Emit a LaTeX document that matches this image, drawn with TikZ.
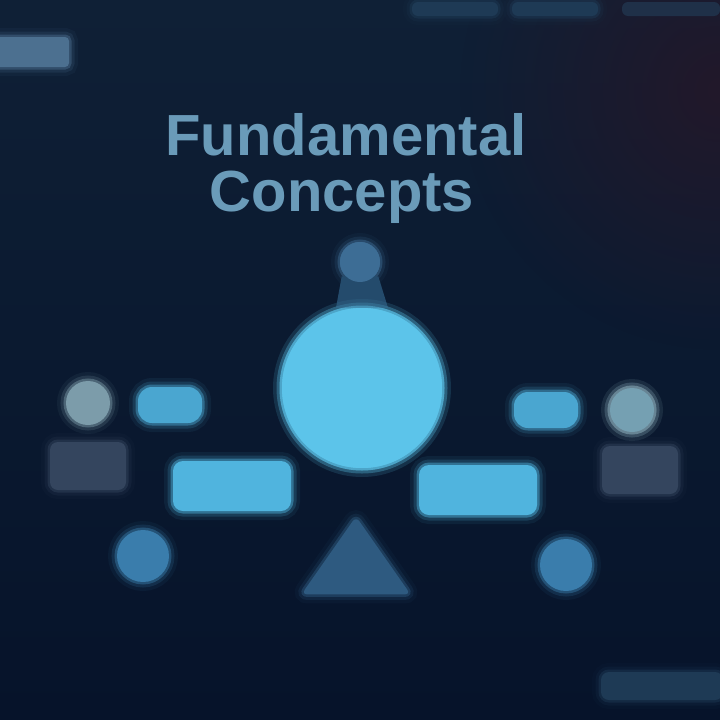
\documentclass[tikz,border=0pt]{standalone}
\usepackage{fontspec}
\setmainfont{Liberation Sans}
\usetikzlibrary{shapes.geometric,fadings}
\definecolor{bgtop}{HTML}{0F2036}
\definecolor{bgbot}{HTML}{06132A}
\definecolor{bgred}{HTML}{22182A}
\definecolor{titlec}{HTML}{6A9BB9}
\definecolor{cyanbig}{HTML}{5CC4EA}
\definecolor{cyanbox}{HTML}{50B4DE}
\definecolor{pillc}{HTML}{4AA6D0}
\definecolor{greyc}{HTML}{7C9CAA}
\definecolor{greyr}{HTML}{34455E}
\definecolor{midblue}{HTML}{3A7DAC}
\definecolor{triblue}{HTML}{2E5A80}
\definecolor{topc}{HTML}{3D6D95}
\definecolor{stemc}{HTML}{244B6C}
\definecolor{faint}{HTML}{1E3A55}
\definecolor{tagc}{HTML}{4C7090}
\tikzfading[name=softcorner, inner color=transparent!0, outer color=transparent!100]
\tikzset{
  soft/.style={preaction={draw=#1, line width=18pt, draw opacity=0.08},
               preaction={draw=#1, line width=11pt, draw opacity=0.18},
               preaction={draw=#1, line width=5pt, draw opacity=0.45}},
  bigcircle/.style={circle, fill=cyanbig, minimum size=160pt, inner sep=0pt, soft=cyanbig},
  pill/.style={rounded corners=14pt, fill=pillc, minimum width=64pt, minimum height=36pt, inner sep=0pt, soft=pillc},
  widebox/.style={rounded corners=10pt, fill=cyanbox, minimum width=118pt, minimum height=50pt, inner sep=0pt, soft=cyanbox},
  greydot/.style={circle, fill=greyc, minimum size=44pt, inner sep=0pt, soft=greyc},
  greybox/.style={rounded corners=8pt, fill=greyr, minimum width=76pt, minimum height=48pt, inner sep=0pt, soft=greyr},
  lowdot/.style={circle, fill=midblue, minimum size=52pt, inner sep=0pt, soft=midblue},
  titletext/.style={text=titlec, font=\fontsize{58}{60}\selectfont\bfseries, inner sep=0pt, anchor=base}
}
\begin{document}
\begin{tikzpicture}[x=1pt,y=-1pt]
\useasboundingbox (0,0) rectangle (720,720);
% background
\shade[top color=bgtop, bottom color=bgbot] (0,0) rectangle (720,720);
\fill[bgred, path fading=softcorner] (720,90) circle (260);
% faint top items
\fill[faint, rounded corners=6pt, soft=faint] (412,2) rectangle (498,16);
\fill[faint, rounded corners=6pt, soft=faint] (512,2) rectangle (598,16);
\fill[faint!70!bgred, rounded corners=6pt] (622,2) rectangle (720,16);
% top-left tag
\node[fill=tagc, rounded corners=4pt, minimum width=74pt, minimum height=30pt, inner sep=0pt, soft=tagc] (tag) at (32,52) {};
% bottom right faint bar
\node[fill=faint, rounded corners=8pt, minimum width=122pt, minimum height=28pt, inner sep=0pt, soft=faint] (bar) at (662,686) {};
% title
\node[titletext] (t1) at (346,155) {Fundamental};
\node[titletext] (t2) at (342,211) {Concepts};
% central structure
\node[bigcircle] (core) at (362,388) {};
\node[circle, fill=topc, minimum size=40pt, inner sep=0pt, soft=topc] (top) at (360,262) {};
\fill[stemc] ([xshift=-4pt]top.south west) -- ([xshift=4pt]top.south east) -- ([xshift=26pt]core.north) -- ([xshift=-26pt]core.north) -- cycle;
\node[circle, fill=topc, minimum size=40pt, inner sep=0pt] at (top) {};
\node[bigcircle] at (core) {};
% side
\node[greydot] (gl) at (88,403) {};
\node[greybox] (gbl) at (88,466) {};
\node[pill] (pl) at (170,405) {};
\node[greydot, fill=greyc!85!cyanbox, soft=greyc] (gr) at (632,410) {};
\node[greybox] (gbr) at (640,470) {};
\node[pill] (pr) at (546,410) {};
\node[widebox] (wl) at (232,486) {};
\node[widebox] (wr) at (478,490) {};
\node[lowdot] (dl) at (143,556) {};
\node[lowdot] (dr) at (566,565) {};
\node[isosceles triangle, shape border rotate=90, isosceles triangle apex angle=70, fill=triblue, minimum height=78pt, inner sep=0pt, rounded corners=6pt, soft=triblue] (tri) at (356,566) {};
\end{tikzpicture}
\end{document}
